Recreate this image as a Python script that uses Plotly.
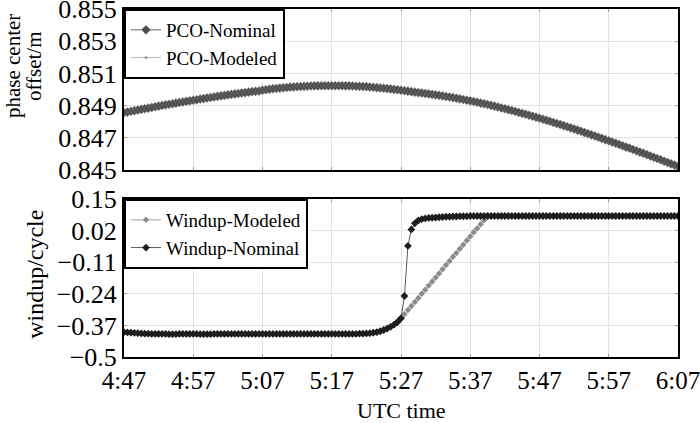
import pandas as pd
import plotly.graph_objects as go

# samples every 30 s between 4:47 and 6:07 UTC
start_time = "2021-01-01 04:47:00"
sample_step = "30s"

tick_labels = ["4:47", "4:57", "5:07", "5:17", "5:27", "5:37", "5:47", "5:57", "6:07"]

pco_ticks = [0.845, 0.847, 0.849, 0.851, 0.853, 0.855]
pco_tick_labels = ["0.845", "0.847", "0.849", "0.851", "0.853", "0.855"]

windup_ticks = [-0.5, -0.37, -0.24, -0.11, 0.02, 0.15]
windup_tick_labels = ["\u22120.5", "\u22120.37", "\u22120.24", "\u22120.11", "0.02", "0.15"]

# phase center offset (m)
pco_nominal = [
    0.84856, 0.84860, 0.84865, 0.84869, 0.84873, 0.84877, 0.84881, 0.84885, 0.84889, 0.84893,
    0.84897, 0.84901, 0.84905, 0.84909, 0.84912, 0.84916, 0.84920, 0.84923, 0.84927, 0.84930,
    0.84934, 0.84937, 0.84941, 0.84944, 0.84948, 0.84951, 0.84954, 0.84958, 0.84961, 0.84964,
    0.84967, 0.84970, 0.84973, 0.84976, 0.84979, 0.84981, 0.84984, 0.84987, 0.84989, 0.84991,
    0.84996, 0.84999, 0.85002, 0.85005, 0.85007, 0.85009, 0.85011, 0.85013, 0.85015, 0.85016,
    0.85018, 0.85019, 0.85020, 0.85021, 0.85022, 0.85023, 0.85023, 0.85024, 0.85024, 0.85024,
    0.85024, 0.85024, 0.85024, 0.85024, 0.85023, 0.85023, 0.85022, 0.85021, 0.85020, 0.85019,
    0.85018, 0.85016, 0.85014, 0.85012, 0.85010, 0.85008, 0.85006, 0.85004, 0.85001, 0.84999,
    0.84996, 0.84993, 0.84990, 0.84987, 0.84984, 0.84981, 0.84979, 0.84976, 0.84973, 0.84970,
    0.84967, 0.84964, 0.84961, 0.84957, 0.84954, 0.84950, 0.84946, 0.84942, 0.84938, 0.84934,
    0.84930, 0.84926, 0.84921, 0.84916, 0.84912, 0.84907, 0.84902, 0.84897, 0.84892, 0.84886,
    0.84881, 0.84875, 0.84870, 0.84864, 0.84858, 0.84852, 0.84847, 0.84841, 0.84834, 0.84828,
    0.84822, 0.84816, 0.84809, 0.84803, 0.84796, 0.84789, 0.84783, 0.84776, 0.84769, 0.84762,
    0.84755, 0.84748, 0.84741, 0.84733, 0.84726, 0.84719, 0.84712, 0.84704, 0.84697, 0.84689,
    0.84682, 0.84674, 0.84667, 0.84659, 0.84651, 0.84643, 0.84636, 0.84628, 0.84620, 0.84612,
    0.84604, 0.84596, 0.84588, 0.84580, 0.84572, 0.84564, 0.84555, 0.84547, 0.84539, 0.84531,
    0.84523,
]
# the modeled PCO lies on top of the nominal one everywhere
pco_modeled = list(pco_nominal)

# carrier phase windup (cycle)
windup_nominal = [
    -0.398, -0.399, -0.400, -0.401, -0.402, -0.403, -0.404, -0.404, -0.405, -0.405,
    -0.405, -0.405, -0.405, -0.406, -0.406, -0.406, -0.405, -0.405, -0.405, -0.405,
    -0.405, -0.405, -0.406, -0.406, -0.406, -0.406, -0.405, -0.405, -0.405, -0.405,
    -0.405, -0.405, -0.405, -0.405, -0.405, -0.405, -0.405, -0.405, -0.405, -0.405,
    -0.405, -0.405, -0.405, -0.405, -0.405, -0.405, -0.405, -0.405, -0.405, -0.405,
    -0.405, -0.405, -0.405, -0.405, -0.405, -0.405, -0.405, -0.405, -0.405, -0.405,
    -0.405, -0.405, -0.405, -0.405, -0.405, -0.405, -0.405, -0.405, -0.404, -0.404,
    -0.403, -0.402, -0.400, -0.398, -0.394, -0.389, -0.383, -0.376, -0.367, -0.356,
    -0.341, -0.249, -0.043, 0.025, 0.050, 0.062, 0.067, 0.070, 0.072, 0.073,
    0.074, 0.075, 0.076, 0.077, 0.077, 0.078, 0.078, 0.079, 0.079, 0.079,
    0.080, 0.080, 0.080, 0.080, 0.080, 0.080, 0.080, 0.080, 0.080, 0.080,
    0.080, 0.080, 0.080, 0.080, 0.080, 0.080, 0.080, 0.080, 0.080, 0.080,
    0.080, 0.080, 0.080, 0.080, 0.080, 0.080, 0.080, 0.080, 0.080, 0.080,
    0.080, 0.080, 0.080, 0.080, 0.080, 0.080, 0.080, 0.080, 0.080, 0.080,
    0.080, 0.080, 0.080, 0.080, 0.080, 0.080, 0.080, 0.080, 0.080, 0.080,
    0.080, 0.080, 0.080, 0.080, 0.080, 0.080, 0.080, 0.080, 0.080, 0.080,
    0.080,
]
windup_modeled = [
    -0.398, -0.399, -0.400, -0.401, -0.402, -0.403, -0.404, -0.404, -0.405, -0.405,
    -0.405, -0.405, -0.405, -0.406, -0.406, -0.406, -0.405, -0.405, -0.405, -0.405,
    -0.405, -0.405, -0.406, -0.406, -0.406, -0.406, -0.405, -0.405, -0.405, -0.405,
    -0.405, -0.405, -0.405, -0.405, -0.405, -0.405, -0.405, -0.405, -0.405, -0.405,
    -0.405, -0.405, -0.405, -0.405, -0.405, -0.405, -0.405, -0.405, -0.405, -0.405,
    -0.405, -0.405, -0.405, -0.405, -0.405, -0.405, -0.405, -0.405, -0.405, -0.405,
    -0.405, -0.405, -0.405, -0.405, -0.405, -0.405, -0.405, -0.405, -0.404, -0.404,
    -0.403, -0.402, -0.400, -0.398, -0.394, -0.389, -0.383, -0.376, -0.367, -0.356,
    -0.341, -0.324, -0.307, -0.290, -0.274, -0.257, -0.240, -0.223, -0.206, -0.189,
    -0.173, -0.156, -0.139, -0.122, -0.105, -0.088, -0.072, -0.055, -0.038, -0.021,
    -0.004, 0.013, 0.029, 0.046, 0.063, 0.080, 0.080, 0.080, 0.080, 0.080,
    0.080, 0.080, 0.080, 0.080, 0.080, 0.080, 0.080, 0.080, 0.080, 0.080,
    0.080, 0.080, 0.080, 0.080, 0.080, 0.080, 0.080, 0.080, 0.080, 0.080,
    0.080, 0.080, 0.080, 0.080, 0.080, 0.080, 0.080, 0.080, 0.080, 0.080,
    0.080, 0.080, 0.080, 0.080, 0.080, 0.080, 0.080, 0.080, 0.080, 0.080,
    0.080, 0.080, 0.080, 0.080, 0.080, 0.080, 0.080, 0.080, 0.080, 0.080,
    0.080,
]

time = pd.date_range(start_time, periods=len(pco_nominal), freq=sample_step)
tick_times = [pd.Timestamp("2021-01-01 " + t) for t in tick_labels]

FONT = "Liberation Serif"
GRID = "#e3e3e3"

fig = go.Figure()

# top panel: phase center offset
fig.add_trace(go.Scatter(
    x=time, y=pco_modeled, name="PCO-Modeled", mode="lines+markers",
    line=dict(color="#b5b5b5", width=1),
    marker=dict(symbol="circle", size=3, color="#9a9a9a"),
    xaxis="x", yaxis="y", legend="legend", legendrank=2,
))
fig.add_trace(go.Scatter(
    x=time, y=pco_nominal, name="PCO-Nominal", mode="lines+markers",
    line=dict(color="#6a6a6a", width=1),
    marker=dict(symbol="diamond", size=7, color="#4d4d4d",
                line=dict(color="#8a8a8a", width=0.5)),
    xaxis="x", yaxis="y", legend="legend", legendrank=1,
))

# bottom panel: windup
fig.add_trace(go.Scatter(
    x=time, y=windup_modeled, name="Windup-Modeled", mode="lines+markers",
    line=dict(color="#a0a0a0", width=1),
    marker=dict(symbol="diamond", size=5, color="#8c8c8c"),
    xaxis="x2", yaxis="y2", legend="legend2",
))
fig.add_trace(go.Scatter(
    x=time, y=windup_nominal, name="Windup-Nominal", mode="lines+markers",
    line=dict(color="#5a5a5a", width=1),
    marker=dict(symbol="diamond", size=6, color="#1e1e1e"),
    xaxis="x2", yaxis="y2", legend="legend2",
))

frame = dict(
    showline=True, linecolor="black", linewidth=2, mirror="ticks",
    ticks="inside", ticklen=3, tickcolor="#9a9a9a",
    showgrid=True, gridcolor=GRID, gridwidth=1, zeroline=False,
    automargin=False,
    tickfont=dict(family=FONT, size=26, color="black"),
)

legend_style = dict(
    xanchor="left", yanchor="top",
    bgcolor="white", bordercolor="black", borderwidth=2,
    font=dict(family=FONT, size=19), tracegroupgap=0,
    entrywidth=140, entrywidthmode="pixels",
)

fig.update_layout(
    width=700, height=423,
    margin=dict(l=124, r=22, t=9, b=66, autoexpand=False),
    paper_bgcolor="white", plot_bgcolor="white",
    font=dict(family=FONT, color="black"),
    xaxis=dict(frame, domain=[0, 1], anchor="y", matches="x2",
               range=[time[0], time[-1]], tickvals=tick_times,
               ticktext=tick_labels, showticklabels=False),
    xaxis2=dict(frame, domain=[0, 1], anchor="y2",
                range=[time[0], time[-1]], tickvals=tick_times,
                ticktext=tick_labels, ticklabeloverflow="allow",
                tickfont=dict(family=FONT, size=25, color="black")),
    yaxis=dict(frame, domain=[0.537, 1], anchor="x", range=[0.845, 0.855],
               tickvals=pco_ticks, ticktext=pco_tick_labels,
               ticklabeloverflow="allow"),
    yaxis2=dict(frame, domain=[0, 0.454], anchor="x2", range=[-0.5, 0.15],
                tickvals=windup_ticks, ticktext=windup_tick_labels,
                ticklabeloverflow="allow"),
    legend=dict(legend_style, x=0, y=1),
    legend2=dict(legend_style, x=0, y=0.454),
    showlegend=True,
    annotations=[
        dict(text="phase center", textangle=-90, showarrow=False,
             xref="paper", yref="paper", x=0, y=0.836, xshift=-111,
             xanchor="center", yanchor="middle",
             font=dict(family=FONT, size=21)),
        dict(text="offset/m", textangle=-90, showarrow=False,
             xref="paper", yref="paper", x=0, y=0.836, xshift=-90,
             xanchor="center", yanchor="middle",
             font=dict(family=FONT, size=21)),
        dict(text="windup/cycle", textangle=-90, showarrow=False,
             xref="paper", yref="paper", x=0, y=0.236, xshift=-89,
             xanchor="center", yanchor="middle",
             font=dict(family=FONT, size=24)),
        dict(text="UTC time", showarrow=False,
             xref="paper", yref="paper", x=0.5, y=0, yshift=-53,
             xanchor="center", yanchor="middle",
             font=dict(family=FONT, size=22)),
    ],
)

# drop the browser's default page margin so the 700x423 figure fills the window
fig.write_html("out.html", config={"displayModeBar": False},
               post_script="document.body.style.margin = '0';")
